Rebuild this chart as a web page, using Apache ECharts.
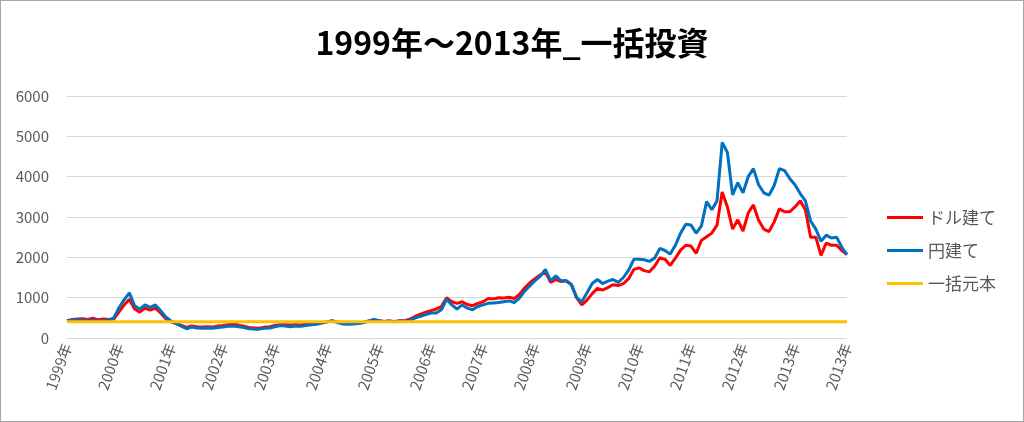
<!DOCTYPE html>
<html>
<head>
<meta charset="utf-8">
<script src="https://cdn.jsdelivr.net/npm/echarts@6/dist/echarts.min.js"></script>
<style>
html,body{margin:0;padding:0;background:#fff;}
#chart{width:1022px;height:420px;border:1px solid #a6a6a6;}
</style>
</head>
<body>
<div id="chart"></div>
<script>
const yearLabels = ['1999年','2000年','2001年','2002年','2003年','2004年','2005年','2006年','2007年','2008年','2009年','2010年','2011年','2012年','2013年','2013年'];
const pointsPerLabel = 10;

const dollarValues = [
430,460,470,480,460,490,450,470,460,470,
650,820,960,720,640,740,690,740,620,480,
400,360,310,260,300,280,270,280,270,300,
310,330,340,320,290,260,250,240,270,280,
310,330,330,320,330,320,340,350,360,380,
400,420,390,360,360,370,370,390,420,450,
430,410,420,410,430,430,470,540,590,640,
680,720,780,1000,900,860,900,830,800,860,
900,980,970,1000,990,1010,980,1080,1240,1370,
1470,1560,1640,1380,1450,1400,1420,1320,1000,820,
940,1100,1230,1190,1250,1320,1300,1350,1470,1700,
1740,1670,1640,1780,1990,1950,1800,1980,2180,2300,
2280,2100,2420,2510,2600,2800,3620,3250,2700,2930,
2650,3100,3300,2920,2700,2640,2880,3200,3130,3130,
3250,3400,3180,2500,2500,2050,2350,2300,2300,2170,2070
];

const yenValues = [
420,440,450,440,430,440,420,430,440,500,
750,950,1120,800,720,820,760,820,680,520,
420,360,290,230,270,250,240,250,240,260,
270,290,300,280,260,230,220,220,240,250,
280,310,300,280,300,290,310,330,340,370,
400,430,390,350,340,350,360,380,420,460,
430,410,420,400,420,410,440,500,540,580,
620,620,700,960,820,720,820,740,700,780,
820,860,870,880,900,920,880,990,1160,1290,
1420,1530,1700,1420,1540,1420,1420,1330,1000,900,
1120,1350,1450,1350,1410,1450,1380,1500,1680,1950,
1950,1940,1900,1980,2220,2170,2080,2300,2600,2820,
2800,2600,2780,3380,3180,3400,4850,4600,3550,3850,
3600,4000,4200,3800,3600,3540,3780,4200,4150,3950,
3800,3580,3400,2900,2700,2400,2550,2480,2500,2250,2070
];

const principalValue = 400;

const categories = dollarValues.map((v, i) => String(i));
const principalValues = dollarValues.map(() => principalValue);

const chart = echarts.init(document.getElementById('chart'), null, {renderer: 'canvas'});
const textColor = '#595959';
const font = '"Noto Sans CJK JP", "Noto Sans", sans-serif';

chart.setOption({
  animation: false,
  backgroundColor: '#fff',
  title: {
    text: '1999年～2013年_一括投資',
    left: 'center',
    top: 21,
    textStyle: {fontSize: 32, fontWeight: 'bold', color: '#000', fontFamily: font}
  },
  legend: {
    orient: 'vertical',
    left: 881,
    top: 203,
    itemWidth: 36,
    itemHeight: 3,
    itemGap: 16,
    icon: 'rect',
    textStyle: {fontSize: 17, color: textColor, fontFamily: font},
    data: ['ドル建て','円建て','一括元本']
  },
  grid: {left: 66, right: 176, top: 95, bottom: 83, containLabel: false},
  xAxis: {
    type: 'category',
    data: categories,
    boundaryGap: false,
    axisLine: {show: true, lineStyle: {color: '#d9d9d9', width: 1}},
    axisTick: {show: false},
    axisLabel: {
      interval: pointsPerLabel - 1,
      rotate: 70,
      margin: 6,
      color: textColor,
      fontSize: 15,
      fontFamily: font,
      formatter: (v, i) => yearLabels[Math.round(i / pointsPerLabel)] || ''
    },
    splitLine: {show: false}
  },
  yAxis: {
    type: 'value',
    min: 0,
    max: 6000,
    interval: 1000,
    axisLine: {show: false},
    axisTick: {show: false},
    axisLabel: {color: textColor, fontSize: 15, margin: 18, fontFamily: font,
      formatter: (v) => String(v)},
    splitLine: {lineStyle: {color: '#d9d9d9', width: 1}}
  },
  series: [
    {name: 'ドル建て', type: 'line', data: dollarValues, showSymbol: false, symbol: 'none',
     lineStyle: {color: '#FF0000', width: 3}, itemStyle: {color: '#FF0000'}},
    {name: '円建て', type: 'line', data: yenValues, showSymbol: false, symbol: 'none',
     lineStyle: {color: '#0070C0', width: 3}, itemStyle: {color: '#0070C0'}},
    {name: '一括元本', type: 'line', data: principalValues, showSymbol: false, symbol: 'none',
     lineStyle: {color: '#FFC000', width: 3}, itemStyle: {color: '#FFC000'}}
  ]
});
</script>
</body>
</html>
